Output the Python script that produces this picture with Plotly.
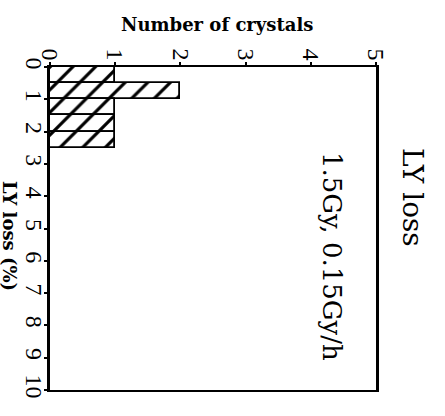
import plotly.graph_objects as go

# Histogram of light-yield loss, drawn with horizontal bars (LY loss runs downward)
bin_lo = [0.0, 0.5, 1.0, 1.5, 2.0]
bin_hi = [0.5, 1.0, 1.5, 2.0, 2.5]
counts = [1, 2, 1, 1, 1]

count_ticks = [0, 1, 2, 3, 4, 5]
loss_ticks = [0, 1, 2, 3, 4, 5, 6, 7, 8, 9, 10]

W, H = 445, 416
L, R, T, B = 50, 376, 67, 390


def px(x, y):
    """Pixel position -> paper coordinates."""
    return (x - L) / (R - L), (B - y) / (B - T)


centers = [(a + b) / 2 for a, b in zip(bin_lo, bin_hi)]
widths = [b - a for a, b in zip(bin_lo, bin_hi)]

fig = go.Figure(
    go.Bar(
        orientation="h",
        y=centers,
        x=counts,
        width=widths,
        marker=dict(
            color="white",
            line=dict(color="black", width=1.8),
            pattern=dict(shape="/", fgcolor="black", bgcolor="white",
                         fgopacity=1, size=16, solidity=0.2),
        ),
        showlegend=False,
    )
)

tick_font = dict(family="Liberation Serif", size=24, color="black")

fig.update_xaxes(
    range=[0, 5], side="top", tickvals=count_ticks,
    ticktext=[str(v) for v in count_ticks], tickangle=90,
    tickfont=tick_font, ticks="outside", ticklen=3, tickwidth=1.5,
    tickcolor="black", ticklabelstandoff=-7,
    showline=True, linecolor="black", linewidth=2,
    mirror=True, showgrid=False, zeroline=False,
)
fig.update_yaxes(
    range=[10, 0], tickvals=loss_ticks,
    ticktext=[str(v) for v in loss_ticks], tickangle=90,
    tickfont=tick_font, ticks="outside", ticklen=3, tickwidth=1.5,
    tickcolor="black", ticklabelstandoff=-11,
    showline=True, linecolor="black", linewidth=2.5,
    mirror=True, showgrid=False, zeroline=False,
)

annotations = []
for text, (x, y), font, angle in [
    ("<b>Number of crystals</b>", (217, 24),
     dict(family="DejaVu Serif", size=18, color="black"), 0),
    ("<b>LY loss (%)</b>", (10, 236),
     dict(family="DejaVu Serif", size=18, color="black"), 90),
    ("LY loss", (413, 197),
     dict(family="DejaVu Serif", size=28, color="black"), 90),
    ("1.5Gy, 0.15Gy/h", (332, 256),
     dict(family="DejaVu Serif", size=26, color="black"), 90),
]:
    ax, ay = px(x, y)
    annotations.append(dict(
        text=text, x=ax, y=ay, xref="paper", yref="paper",
        xanchor="center", yanchor="middle", showarrow=False,
        textangle=angle, font=font,
    ))

fig.update_layout(
    width=W, height=H,
    margin=dict(l=L, r=W - R, t=T, b=H - B),
    paper_bgcolor="white", plot_bgcolor="white",
    annotations=annotations, bargap=0,
)

fig.write_html("out.html")
